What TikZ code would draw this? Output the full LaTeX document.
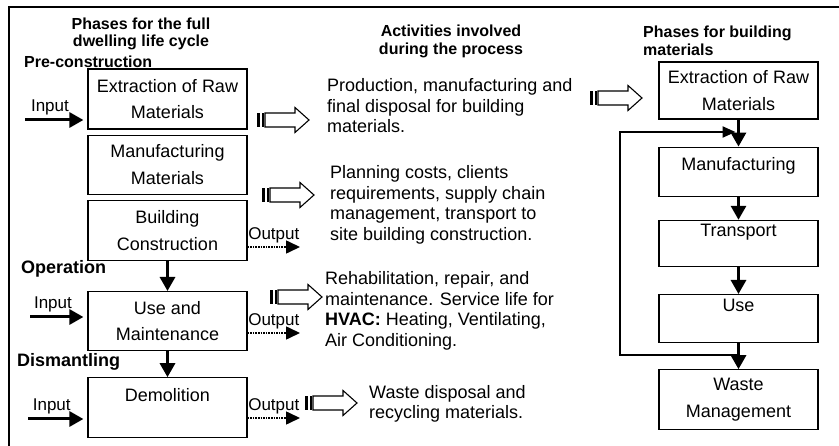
\documentclass[tikz,border=0pt]{standalone}
\usepackage{fontspec}
\setmainfont{Liberation Sans}
\usetikzlibrary{positioning}
\usetikzlibrary{arrows.meta}

\begin{document}
\begin{tikzpicture}[
          x=1pt,
          y=-1pt,
          phase/.style={
            draw,
            line width=1.2pt,
            minimum width=159pt,
            inner sep=0pt,
            align=center,
            font=\fontsize{18}{26.5}\selectfont},
          activity/.style={
            anchor=west,
            inner sep=0pt,
            align=left,
            font=\fontsize{18}{20.5}\selectfont},
          heading/.style={
            inner sep=0pt,
            font=\bfseries\fontsize{16}{17.5}\selectfont},
          stage/.style={
            anchor=west,
            inner sep=0pt,
            font=\bfseries\fontsize{18}{20}\selectfont},
          flow/.style={
            line width=3pt,
            -{Triangle[length=14pt,width=15pt]}},
          outarrow/.style={
            densely dotted,
            line width=1.6pt,
            -{Triangle[length=14pt,width=13pt]}},
          iolabel/.style={
            font=\fontsize{17}{19}\selectfont,
            inner sep=3pt},
          blockarrow/.pic={
            \fill (0,-7) rectangle (3,7);
            \fill (5,-7) rectangle (6.5,7);
            \draw[line width=1.1pt] (8,-7) -- (38,-7) -- (38,-12.5) -- (52,0)
              -- (38,12.5) -- (38,7) -- (8,7) -- cycle;
          },
        ]
          \useasboundingbox (0,0) rectangle (839,446);
          \draw[line width=1.5pt] (9,446) -- (9,7) -- (839,7);

          \node[heading, align=center] (h1) at (141,34) {Phases for the full\\dwelling life cycle};
          \node[heading, align=center] (h2) at (451,41.5) {Activities involved\\during the process};
          \node[heading, align=left, anchor=west] (h3) at (643,41) {Phases for building\\materials};
          \node[heading, anchor=west] (s1) at (24,62) {Pre-construction};
          \node[stage] (s2) at (21,269) {Operation};
          \node[stage] (s3) at (17,362) {Dismantling};

          \node[phase, minimum height=60pt] (p1) at (167.5,99) {Extraction of Raw\\Materials};
          \node[phase, minimum height=59pt] (p2) [below=5pt of p1] {Manufacturing\\Materials};
          \node[phase, minimum height=60pt] (p3) [below=5pt of p2] {Building\\Construction};
          \node[phase, minimum height=59pt] (p4) [below=30pt of p3] {Use and\\Maintenance};
          \node[phase, minimum height=60pt] (p5) [below=26pt of p4] {Demolition\\\mbox{}};

          \node[phase, minimum height=57pt] (m1) at (738.5,90.5) {Extraction of Raw\\Materials};
          \node[phase, minimum height=49pt, text depth=16pt] (m2) [below=27pt of m1] {Manufacturing};
          \node[phase, minimum height=46pt] (m3) [below=23pt of m2] {Transport\\\mbox{}};
          \node[phase, minimum height=48pt] (m4) [below=27pt of m3] {Use\\\mbox{}};
          \node[phase, minimum height=60pt] (m5) [below=26pt of m4] {Waste\\Management};

          \node[activity] (a1) at (327,106) {Production, manufacturing and\\final disposal for building\\materials.};
          \node[activity] (a2) at (330,205) {Planning costs, clients\\requirements, supply chain\\management, transport to\\site building construction.};
          \node[activity] (a3) at (325,311) {Rehabilitation, repair, and\\maintenance. Service life for\\\textbf{HVAC:} Heating, Ventilating,\\Air Conditioning.};
          \node[activity] (a4) at (369,404) {Waste disposal and\\recycling materials.};

          \pic at (257,120) {blockarrow};
          \pic at (262,195) {blockarrow};
          \pic at (270,297) {blockarrow};
          \pic at (305,403) {blockarrow};
          \pic at (590,98) {blockarrow};

          \coordinate (in1) at (25,120);
          \coordinate (in2) at (30,317);
          \coordinate (in3) at (28,419);
          \draw[flow, shorten >=4pt] (in1) -- node[iolabel, above, pos=0.4] {Input} (in1 -| p1.west);
          \draw[flow, shorten >=4pt] (in2) -- node[iolabel, above, pos=0.4] {Input} (in2 -| p4.west);
          \draw[flow, shorten >=4pt] (in3) -- node[iolabel, above, pos=0.4] {Input} (in3 -| p5.west);

          \coordinate (out1) at (300,247);
          \coordinate (out2) at (300,333);
          \coordinate (out3) at (300,418);
          \draw[outarrow] (out1 -| p3.east) -- node[iolabel, above] {Output} (out1);
          \draw[outarrow] (out2 -| p4.east) -- node[iolabel, above] {Output} (out2);
          \draw[outarrow] (out3 -| p5.east) -- node[iolabel, above] {Output} (out3);

          \draw[flow] (p3) -- (p4);
          \draw[flow] (p4) -- (p5);

          \draw[flow] (m1) -- (m2);
          \draw[flow] (m2) -- (m3);
          \draw[flow] (m3) -- (m4);
          \draw[flow] (m4) -- (m5);

          \coordinate (lt) at (620,132);
          \coordinate (lb) at (620,355);
          \draw[line width=2.2pt, -{Triangle[length=13pt,width=11pt]}, shorten >=3pt] (lb -| m4) -- (lb) -- (lt) -- (lt -| m1);
        \end{tikzpicture}
\end{document}
